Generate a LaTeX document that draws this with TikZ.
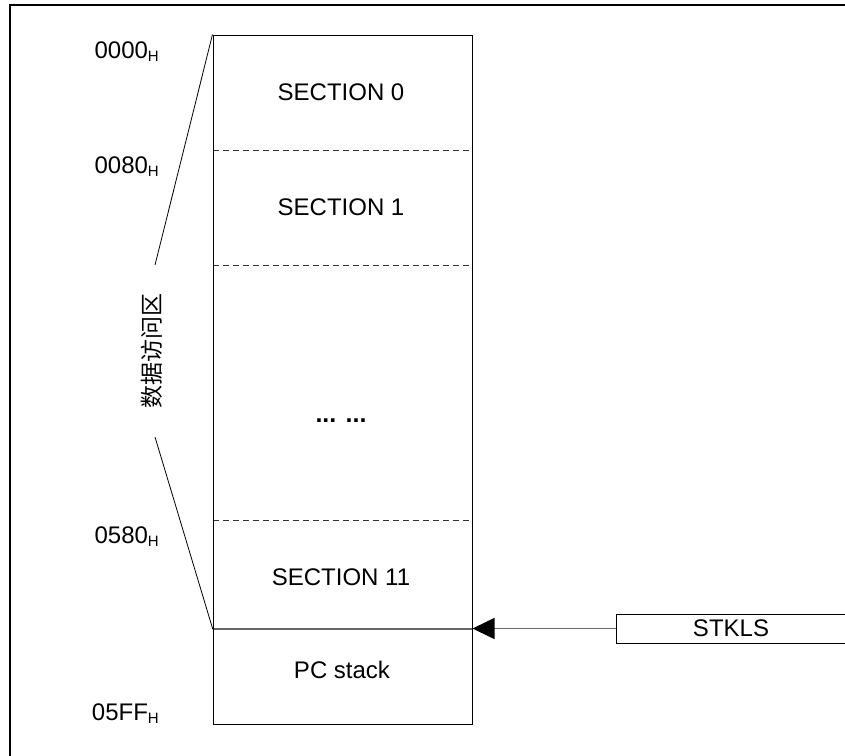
\documentclass[tikz,border=0pt]{standalone}
\usepackage{fontspec}
\setmainfont{Liberation Sans}
\newfontfamily\cjk{Noto Sans CJK SC}
\usetikzlibrary{arrows.meta}
\newcommand{\hsub}{\raisebox{-3pt}{\fontsize{15}{15}\selectfont H}}
\begin{document}
\begin{tikzpicture}[x=1pt,y=-1pt,
  txt/.style={font=\fontsize{24}{28}\selectfont, inner sep=0pt},
  addr/.style={txt, anchor=base east},
  region/.style={minimum width=259pt, inner sep=0pt, draw=none},
  dashline/.style={line width=0.9pt, dash pattern=on 6pt off 4pt, black!80},
  sepline/.style={line width=1.5pt, black!60},
  thin/.style={line width=0.8pt},
  frame/.style={line width=2.5pt}]
\clip (0,0) rectangle (845,755);
\useasboundingbox (0,0) rectangle (845,755);
\fill[white] (0,0) rectangle (845,755);
% outer frame (only top and left visible)
\coordinate (f1) at (10,760);
\coordinate (f2) at (10,5);
\coordinate (f3) at (850,5);
\draw[frame] (f1) -- (f2) -- (f3);
% memory regions
\node[region, minimum height=115pt] (s0) at (342.5,92.5) {};
\node[region, minimum height=115pt] (s1) at (342.5,207.5) {};
\node[region, minimum height=255pt] (mid) at (342.5,392.5) {};
\node[region, minimum height=109pt] (s11) at (342.5,574.5) {};
\node[region, minimum height=95pt] (pc) at (342.5,676.5) {};
\draw[dashline] (s0.south west) -- (s0.south east);
\draw[dashline] (s1.south west) -- (s1.south east);
\draw[dashline] (mid.south west) -- (mid.south east);
\draw[sepline] (s11.south west) -- (s11.south east);
\node[draw, line width=1pt, minimum width=259pt, minimum height=689pt, inner sep=0pt] (box) at (342.5,379.5) {};
% texts in regions
\node[txt, anchor=base] (t0) at (341,100) {SECTION 0};
\node[txt, anchor=base] (t1) at (341,215) {SECTION 1};
\node[txt, anchor=base, font=\fontsize{25}{28}\selectfont\bfseries] (tdots) at (341,422) {... ...};
\node[txt, anchor=base] (t11) at (341,585) {SECTION 11};
\node[txt, anchor=base] (tpc) at (342,678) {PC stack};
% address labels
\node[addr] (a0000) at (159,58) {0000\hsub};
\node[addr] (a0080) at (159,173) {0080\hsub};
\node[addr] (a0580) at (159,543) {0580\hsub};
\node[addr] (a05FF) at (159,720) {05FF\hsub};
% data access zone
\node[rotate=90, inner sep=0pt, font=\cjk\fontsize{23}{23}\selectfont] (zone) at (152,351) {数据访问区};
\coordinate (z1) at (155,265);
\coordinate (z2) at (155,437);
\draw[thin] (box.north west) -- (z1);
\draw[thin] (z2) -- (s11.south west);
% STKLS
\node[draw, line width=1pt, txt, minimum width=230pt, minimum height=29pt, inner sep=0pt] (stk) at (731,628.5) {STKLS};
\draw[sepline, -{Triangle[length=22pt,width=21pt,color=black]}] (stk.west) -- (box.east |- stk.west);
\end{tikzpicture}
\end{document}
